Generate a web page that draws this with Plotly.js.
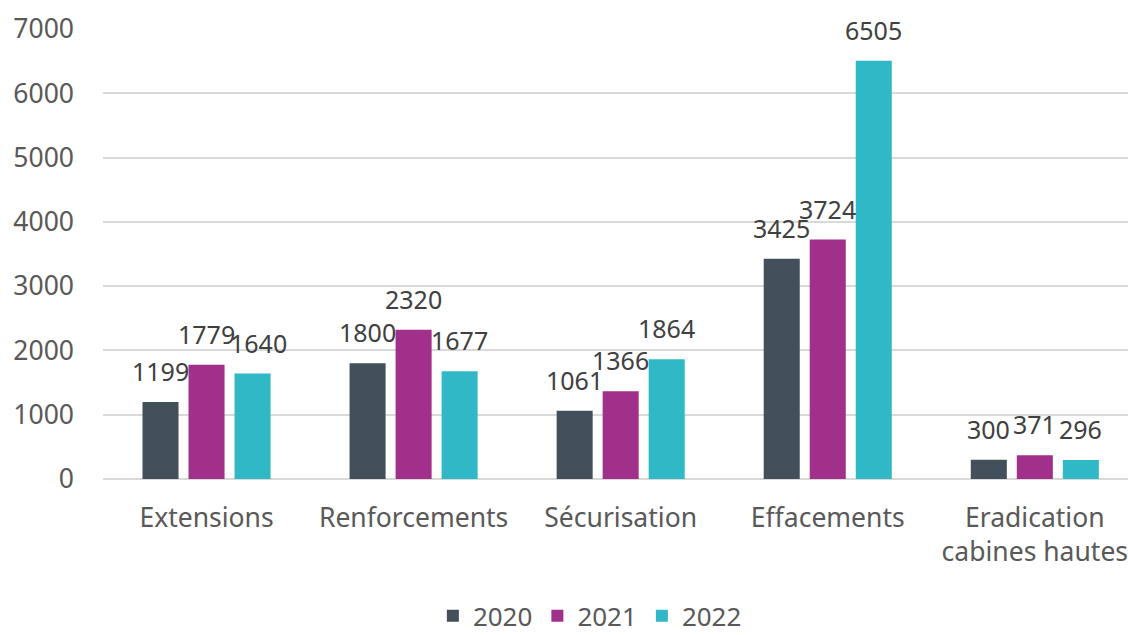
<!DOCTYPE html>
<html>
<head>
<meta charset="utf-8">
<script src="https://cdn.plot.ly/plotly-3.0.1.min.js"></script>
<style>
html,body{margin:0;padding:0;background:#fff;}
#chart{width:1128px;height:635px;}
</style>
</head>
<body>
<div id="chart"></div>
<script>
var categories = ["Extensions", "Renforcements", "Sécurisation", "Effacements", "Eradication<br>cabines hautes"];
var seriesNames = ["2020", "2021", "2022"];
var values2020 = [1199, 1800, 1061, 3425, 300];
var values2021 = [1779, 2320, 1366, 3724, 371];
var values2022 = [1640, 1677, 1864, 6505, 296];
var colors = ["#434f5a", "#a0308a", "#30b8c6"];
var yTicks = [0, 1000, 2000, 3000, 4000, 5000, 6000, 7000];

var allValues = [values2020, values2021, values2022];
var FONT = "Noto Sans, Open Sans, sans-serif";

var traces = allValues.map(function (vals, k) {
  return {
    type: "bar",
    name: seriesNames[k],
    x: categories,
    y: vals,
    marker: { color: colors[k] },
    hoverinfo: "x+y+name"
  };
});

var slot = 0.2222;
var annotations = [];
allValues.forEach(function (vals, k) {
  vals.forEach(function (v, i) {
    var xs = 0;
    // nudge a label right when the neighbouring label on its left sits at nearly the same height
    if (k > 0 && v >= 1000 && allValues[k - 1][i] >= 1000 && Math.abs(allValues[k - 1][i] - v) < 200 && allValues[k - 1][i] > v) {
      xs = 6;
    }
    annotations.push({
      x: i + (k - 1) * slot,
      y: v,
      xref: "x",
      yref: "y",
      text: String(v),
      showarrow: false,
      yanchor: "bottom",
      xanchor: "center",
      xshift: xs,
      yshift: 12,
      font: { family: FONT, size: 25, color: "#404040" }
    });
  });
});

var layout = {
  width: 1128,
  height: 635,
  margin: { l: 103, r: 0, t: 29, b: 156, autoexpand: false },
  paper_bgcolor: "#ffffff",
  plot_bgcolor: "#ffffff",
  barmode: "group",
  bargap: 0.3333,
  bargroupgap: 0.217,
  font: { family: FONT, size: 26, color: "#595959" },
  xaxis: {
    type: "category",
    range: [-0.5, 4.45],
    showgrid: false,
    showline: false,
    zeroline: false,
    ticks: "",
    automargin: false,
    tickfont: { family: FONT, size: 26.5, color: "#595959" },
    ticklabelstandoff: 20,
    fixedrange: true
  },
  yaxis: {
    range: [0, 7000],
    tickvals: yTicks,
    ticktext: yTicks.map(String),
    showgrid: true,
    gridcolor: "#d9d9d9",
    gridwidth: 2,
    zeroline: true,
    zerolinecolor: "#d9d9d9",
    zerolinewidth: 2,
    showline: false,
    ticks: "",
    automargin: false,
    ticklabelstandoff: 28,
    tickfont: { family: FONT, size: 26.5, color: "#595959" },
    fixedrange: true
  },
  legend: {
    orientation: "h",
    x: 0.475,
    xanchor: "center",
    yref: "container",
    y: 0.03,
    yanchor: "middle",
    font: { family: FONT, size: 26, color: "#595959" },
    itemwidth: 30,
    traceorder: "normal"
  },
  annotations: annotations,
  showlegend: true
};

Plotly.newPlot("chart", traces, layout, { displayModeBar: false, staticPlot: true });
</script>
</body>
</html>
